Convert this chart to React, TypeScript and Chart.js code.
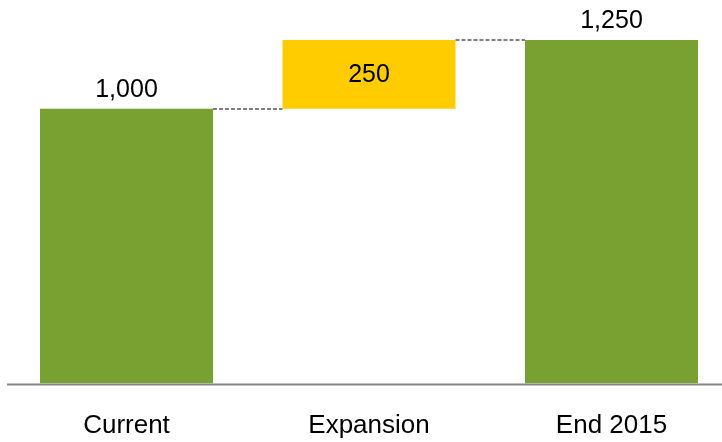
import React, { useEffect, useRef } from "react";
import { Chart, registerables } from "chart.js";

Chart.register(...registerables);

const categories = ["Current", "Expansion", "End 2015"];
const barStarts = [0, 1000, 0];
const barEnds = [1000, 1250, 1250];
const valueLabels = ["1,000", "250", "1,250"];
const barColors = ["#78A132", "#FFCC00", "#78A132"];
const labelInside = [false, true, false];

const FONT = "'Liberation Sans', Arial, sans-serif";

const waterfallPlugin = {
  id: "waterfallDecor",
  afterDatasetsDraw(chart: any) {
    const ctx = chart.ctx;
    const meta = chart.getDatasetMeta(0);
    const yScale = chart.scales.y;
    const els = meta.data;

    // connectors
    ctx.save();
    ctx.strokeStyle = "#808080";
    ctx.lineWidth = 2;
    ctx.setLineDash([4, 2]);
    for (let i = 0; i < els.length - 1; i++) {
      const a = els[i];
      const b = els[i + 1];
      const y = Math.round(yScale.getPixelForValue(barEnds[i]));
      ctx.beginPath();
      ctx.moveTo(a.x + a.width / 2, y);
      ctx.lineTo(b.x - b.width / 2, y);
      ctx.stroke();
    }
    ctx.restore();

    // baseline axis
    ctx.save();
    const y0 = yScale.getPixelForValue(0) + 1;
    ctx.strokeStyle = "#878787";
    ctx.lineWidth = 2;
    ctx.beginPath();
    ctx.moveTo(7, y0);
    ctx.lineTo(chart.width, y0);
    ctx.stroke();
    ctx.restore();

    // value labels
    ctx.save();
    ctx.fillStyle = "#000000";
    ctx.font = `25px ${FONT}`;
    ctx.textAlign = "center";
    els.forEach((el: any, i: number) => {
      const top = yScale.getPixelForValue(barEnds[i]);
      const bottom = yScale.getPixelForValue(barStarts[i]);
      if (labelInside[i]) {
        ctx.textBaseline = "middle";
        ctx.fillText(valueLabels[i], el.x, (top + bottom) / 2 + 1);
      } else {
        ctx.textBaseline = "alphabetic";
        ctx.fillText(valueLabels[i], el.x, top - 12);
      }
    });
    ctx.restore();
  },
};

export default function App() {
  const ref = useRef<HTMLCanvasElement | null>(null);

  useEffect(() => {
    if (!ref.current) return;
    const chart = new Chart(ref.current, {
      type: "bar",
      data: {
        labels: categories,
        datasets: [
          {
            data: categories.map((_, i) => [barStarts[i], barEnds[i]]) as any,
            backgroundColor: barColors,
            borderWidth: 0,
            categoryPercentage: 1,
            barPercentage: 0.7134,
          },
        ],
      },
      options: {
        animation: false,
        responsive: false,
        devicePixelRatio: 1,
        layout: { padding: { left: 5.25, right: 7.25, top: 0, bottom: 0 } },
        plugins: {
          legend: { display: false },
          tooltip: { enabled: false },
        },
        scales: {
          x: {
            type: "category",
            grid: { display: false, drawTicks: false },
            border: { display: false },
            ticks: {
              color: "#000000",
              font: { family: FONT, size: 26 },
              padding: 27,
              maxRotation: 0,
            },
            afterFit(scale: any) {
              scale.height = 442 - 383.4;
            },
          },
          y: {
            display: false,
            min: 0,
            max: 1396,
          },
        },
      },
      plugins: [waterfallPlugin],
    });
    return () => chart.destroy();
  }, []);

  return (
    <div
      style={{
        position: "absolute",
        left: 0,
        top: 0,
        width: 722,
        height: 442,
        overflow: "hidden",
        background: "#ffffff",
      }}
    >
      <canvas ref={ref} width={740} height={442} style={{ display: "block" }} />
    </div>
  );
}
